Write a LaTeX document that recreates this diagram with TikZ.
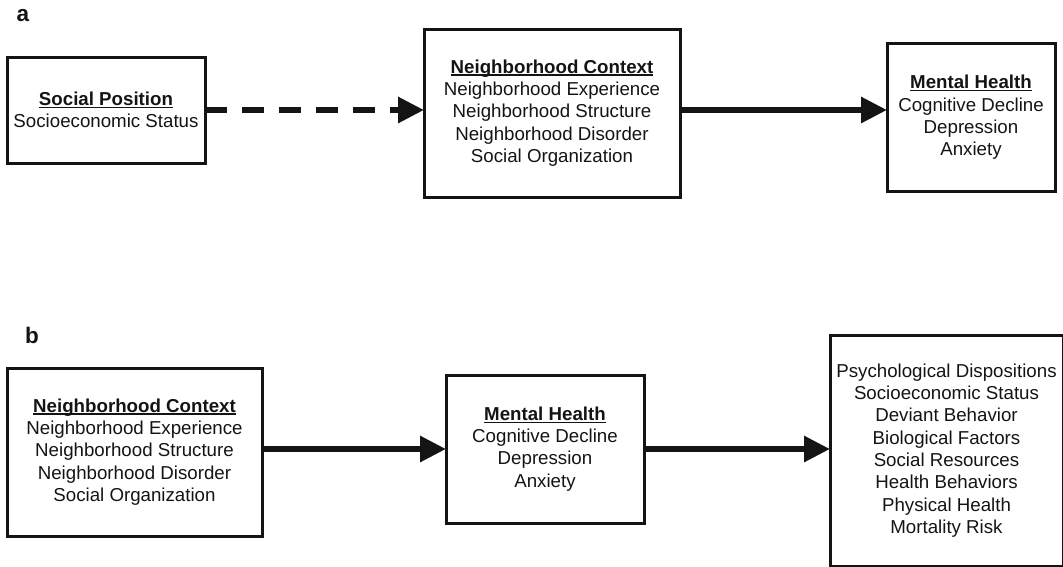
\documentclass[tikz,border=0pt]{standalone}
\usepackage{fontspec}
\setmainfont{Liberation Sans}
\usetikzlibrary{arrows.meta}

% bold heading with a rule just under the baseline
\newcommand{\headline}[1]{\setbox0\hbox{\bfseries #1}\rlap{\rule[-2.6pt]{\wd0}{1.4pt}}\box0}

\begin{document}
\begin{tikzpicture}[x=1pt,y=-1pt,
  every node/.style={inner sep=0pt, outer sep=0pt},
  box/.style={draw=black!92, line width=3pt, align=center,
    font=\fontsize{18.7}{22.3}\selectfont, text=black!92},
  panel/.style={font=\fontsize{22.5}{24}\selectfont\bfseries, text=black!92},
  flow/.style={line width=6pt, draw=black!92,
    -{Triangle[length=26pt,width=25pt]}},
  dashflow/.style={flow, dash pattern=on 22pt off 15pt}]

\useasboundingbox (0,0) rectangle (1063,566);

% panel a
\node[panel] (la) at (23,16) {a};
\node[box, minimum width=198pt, minimum height=106pt] (sp) at (106,110)
  {\headline{Social Position}\\Socioeconomic Status};
\node[box, minimum width=256pt, minimum height=168pt] (ncA) at (552,113)
  {\headline{Neighborhood Context}\\Neighborhood Experience\\Neighborhood Structure\\Neighborhood Disorder\\Social Organization};
\node[box, minimum width=168pt, minimum height=148pt] (mhA) at (971,117.5)
  {\headline{Mental Health}\\Cognitive Decline\\Depression\\Anxiety};

\draw[dashflow] (sp.east) -- (ncA.west |- sp.east);
\draw[flow] (ncA.east |- sp.east) -- (mhA.west |- sp.east);

% panel b
\node[panel] (lb) at (32,335) {b};
\node[box, minimum width=255pt, minimum height=168pt] (ncB) at (134.5,452)
  {\headline{Neighborhood Context}\\Neighborhood Experience\\Neighborhood Structure\\Neighborhood Disorder\\Social Organization};
\node[box, minimum width=198pt, minimum height=148pt] (mhB) at (545,449)
  {\headline{Mental Health}\\Cognitive Decline\\Depression\\Anxiety};
\node[box, minimum width=233pt, minimum height=231pt] (out) at (946.5,450.5)
  {Psychological Dispositions\\Socioeconomic Status\\Deviant Behavior\\Biological Factors\\Social Resources\\Health Behaviors\\Physical Health\\Mortality Risk};

\draw[flow] (ncB.east |- mhB.west) -- (mhB.west);
\draw[flow] (mhB.east) -- (out.west |- mhB.east);

\end{tikzpicture}
\end{document}
